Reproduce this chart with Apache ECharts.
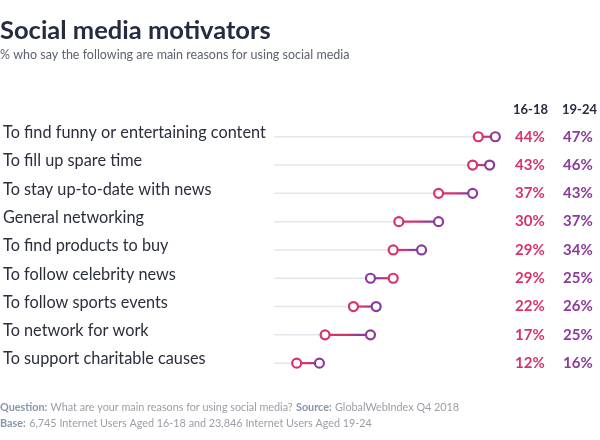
<!DOCTYPE html>
<html><head><meta charset="utf-8">
<script src="https://cdn.jsdelivr.net/npm/echarts@6/dist/echarts.min.js"></script>
<style>html,body{margin:0;padding:0;background:#fff}#c{width:600px;height:440px}</style>
</head><body><div id="c"></div>
<script>
const categories = [
  'To find funny or entertaining content',
  'To fill up spare time',
  'To stay up-to-date with news',
  'General networking',
  'To find products to buy',
  'To follow celebrity news',
  'To follow sports events',
  'To network for work',
  'To support charitable causes'
];
const seriesNames = ['16-18', '19-24'];
const age1618 = [44, 43, 37, 30, 29, 29, 22, 17, 12];
const age1924 = [47, 46, 43, 37, 34, 25, 26, 25, 16];

const PINK = '#d6336b';
const PURPLE = '#8d3a9b';
const FONT = 'Lato, "Noto Sans", sans-serif';
const AXIS_MIN = 8, AXIS_MAX = 48;

const chart = echarts.init(document.getElementById('c'), null, {renderer: 'canvas'});
const data = categories.map((c, i) => [i, age1618[i], age1924[i]]);

chart.setOption({
  backgroundColor: '#fff',
  animation: false,
  graphic: [{
    type: 'text', x: 0, y: 31,
    style: {text: 'Social media motivators', font: 'bold 25.5px ' + FONT, fill: '#262b40', verticalAlign: 'middle'}
  }, {
    type: 'text', x: 0, y: 55,
    style: {text: '% who say the following are main reasons for using social media', font: '12.5px ' + FONT, fill: '#5d6270', verticalAlign: 'middle'}
  }, {
    type: 'text', x: 513, y: 110,
    style: {text: seriesNames[0], font: 'bold 13px ' + FONT, fill: '#262b40', verticalAlign: 'middle'}
  }, {
    type: 'text', x: 562, y: 110,
    style: {text: seriesNames[1], font: 'bold 13px ' + FONT, fill: '#262b40', verticalAlign: 'middle'}
  }, {
    type: 'text', left: 0, top: 400,
    style: {
      rich: {
        b: {font: 'bold 10.8px ' + FONT, fill: '#8797ab'},
        n: {font: '10.8px ' + FONT, fill: '#9b9ea6'}
      },
      text: '{b|Question:} {n|What are your main reasons for using social media?} {b|Source:} {n|GlobalWebIndex Q4 2018}\n{b|Base:} {n|6,745 Internet Users Aged 16-18 and 23,846 Internet Users Aged 19-24}',
      lineHeight: 16
    }
  }],
  grid: {left: 270, right: 99, top: 122.6, bottom: 62.7},
  xAxis: {
    type: 'value', min: AXIS_MIN, max: AXIS_MAX,
    show: false
  },
  yAxis: [{
    type: 'category', data: categories, inverse: true,
    axisLine: {show: false}, axisTick: {show: false}, splitLine: {show: false},
    axisLabel: {
      align: 'left', margin: 271, fontFamily: FONT, fontSize: 16.3, color: '#2b2f3d',
      verticalAlign: 'bottom', lineHeight: 8
    }
  }, {
    type: 'category', data: categories, inverse: true, position: 'right',
    axisLine: {show: false}, axisTick: {show: false}, splitLine: {show: false},
    axisLabel: {
      align: 'left', margin: 14,
      formatter: (v, i) => '{a|' + age1618[i] + '%}{b|' + age1924[i] + '%}',
      rich: {
        a: {fontFamily: FONT, fontSize: 15, fontWeight: 'bold', color: PINK, width: 48},
        b: {fontFamily: FONT, fontSize: 15, fontWeight: 'bold', color: PURPLE}
      }
    }
  }],
  series: [{
    type: 'custom',
    data: data,
    encode: {x: [1, 2], y: 0},
    renderItem: function (params, api) {
      const yi = api.value(0), a = api.value(1), b = api.value(2);
      const pa = api.coord([a, yi]), pb = api.coord([b, yi]), p0 = api.coord([AXIS_MIN, yi]);
      const r = 4.5;
      const leftX = Math.min(pa[0], pb[0]), rightX = Math.max(pa[0], pb[0]);
      const leftC = pa[0] <= pb[0] ? PINK : PURPLE;
      const rightC = pa[0] <= pb[0] ? PURPLE : PINK;
      const y = pa[1];
      return {
        type: 'group',
        children: [{
          type: 'line',
          shape: {x1: p0[0], y1: y, x2: leftX - r, y2: y},
          style: {stroke: '#e2e6ed', lineWidth: 1.5}
        }, {
          type: 'line',
          shape: {x1: leftX, y1: y, x2: rightX, y2: y},
          style: {
            lineWidth: 2.2,
            stroke: new echarts.graphic.LinearGradient(leftX, y, rightX, y, [
              {offset: 0, color: leftC}, {offset: 0.45, color: leftC},
              {offset: 0.75, color: rightC}, {offset: 1, color: rightC}
            ], true)
          }
        }, {
          type: 'circle',
          shape: {cx: pa[0], cy: y, r: r},
          style: {fill: '#fff', stroke: PINK, lineWidth: 2.2}
        }, {
          type: 'circle',
          shape: {cx: pb[0], cy: y, r: r},
          style: {fill: '#fff', stroke: PURPLE, lineWidth: 2.2}
        }]
      };
    }
  }]
});
</script></body></html>
